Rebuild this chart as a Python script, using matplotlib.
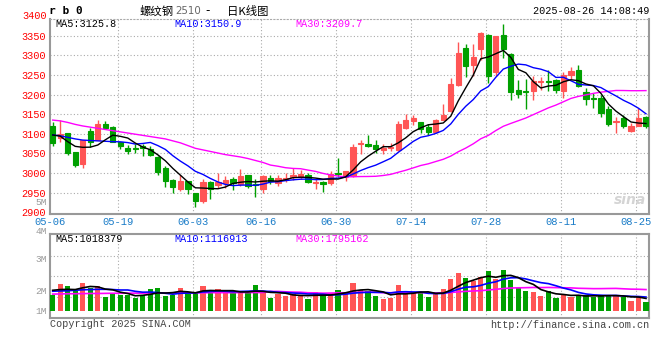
import numpy as np
import pandas as pd
import matplotlib.pyplot as plt

# trading days 2025-05-06 .. 2025-08-26 (Dragon Boat holiday on 06-02)
dates = pd.bdate_range('2025-05-06', '2025-08-26', freq='C',
                       holidays=['2025-06-02']).strftime('%m-%d').tolist()

opens = [3120, 3090, 3101, 3053, 3023, 3106, 3085, 3126, 3118, 3080,
         3065, 3065, 3068, 3061, 3040, 3012, 2982, 2960, 2979, 2949,
         2930, 2977, 2969, 2974, 2984, 2972, 2995, 2973, 2960, 2987,
         2975, 2984, 2990, 2990, 2996, 2975, 2977, 2974, 3001, 2990,
         2993, 3073, 3073, 3071, 3060, 3063, 3059, 3115, 3133, 3131,
         3117, 3105, 3135, 3158, 3224, 3319, 3275, 3315, 3353, 3257,
         3352, 3304, 3212, 3208, 3210, 3233, 3235, 3238, 3210, 3251,
         3263, 3206, 3191, 3191, 3164, 3131, 3140, 3108, 3121, 3142]
highs = [3130, 3136, 3103, 3053, 3085, 3115, 3134, 3132, 3119, 3080,
         3071, 3073, 3074, 3068, 3043, 3019, 2985, 2994, 2980, 2949,
         2985, 2980, 3001, 2993, 2990, 3010, 2995, 2986, 2996, 2995,
         2996, 3001, 3012, 3008, 3001, 2984, 2980, 3006, 3038, 3006,
         3073, 3084, 3096, 3085, 3073, 3077, 3132, 3150, 3147, 3131,
         3124, 3137, 3177, 3241, 3335, 3330, 3328, 3359, 3355, 3349,
         3380, 3306, 3238, 3240, 3248, 3246, 3262, 3240, 3257, 3271,
         3275, 3218, 3204, 3200, 3170, 3142, 3148, 3127, 3165, 3146]
lows = [3070, 3080, 3045, 3015, 3012, 3067, 3083, 3113, 3080, 3061,
        3048, 3052, 3043, 3043, 2995, 2965, 2950, 2955, 2947, 2913,
        2924, 2935, 2963, 2963, 2957, 2968, 2963, 2940, 2950, 2972,
        2968, 2976, 2983, 2985, 2974, 2959, 2952, 2969, 2990, 2979,
        2991, 3048, 3066, 3050, 3049, 3055, 3057, 3113, 3122, 3102,
        3097, 3103, 3135, 3156, 3222, 3245, 3248, 3289, 3229, 3248,
        3292, 3186, 3191, 3163, 3186, 3212, 3208, 3204, 3191, 3240,
        3220, 3174, 3167, 3142, 3121, 3103, 3114, 3105, 3119, 3114]
closes = [3076, 3099, 3050, 3020, 3083, 3078, 3126, 3116, 3080, 3068,
          3056, 3062, 3065, 3046, 3003, 2980, 2965, 2979, 2960, 2928,
          2977, 2959, 2976, 2982, 2974, 2992, 2968, 2970, 2992, 2979,
          2987, 2987, 2996, 2998, 2977, 2978, 2973, 2997, 2998, 3005,
          3066, 3076, 3070, 3061, 3063, 3066, 3124, 3134, 3140, 3112,
          3105, 3134, 3147, 3226, 3307, 3273, 3295, 3356, 3248, 3349,
          3315, 3206, 3202, 3206, 3235, 3235, 3231, 3211, 3251, 3261,
          3223, 3189, 3188, 3154, 3125, 3133, 3119, 3120, 3140, 3119]

# volume, million lots
volumes = [1.37, 2.24, 2.10, 1.71, 2.32, 1.93, 2.07, 1.18, 1.40, 1.32,
           1.37, 1.12, 1.37, 1.82, 1.93, 1.29, 1.32, 1.90, 1.60, 1.51,
           2.10, 1.51, 1.82, 1.60, 1.51, 1.57, 1.51, 2.15, 1.51, 1.09,
           1.43, 1.29, 1.43, 1.29, 1.01, 1.57, 1.32, 1.51, 1.74, 1.51,
           2.32, 1.74, 1.68, 1.26, 1.01, 1.09, 2.16, 1.68, 1.51, 1.51,
           1.18, 1.51, 1.82, 2.69, 3.17, 2.77, 2.49, 2.86, 3.33, 2.72,
           3.42, 2.63, 1.90, 1.65, 1.57, 1.26, 1.65, 1.09, 1.37, 1.18,
           1.32, 1.32, 1.18, 1.32, 1.32, 1.32, 1.18, 0.81, 1.23, 0.73]

# moving-average values before enough history is on the chart
ma5_head = [3097, 3094, 3080, 3068]
ma10_head = [3097, 3095, 3091, 3087, 3084, 3083, 3082, 3081, 3080]
ma30_head = [3135, 3133, 3129, 3124, 3120, 3117, 3114, 3111, 3108, 3105,
             3102, 3099, 3096, 3093, 3090, 3087, 3082, 3077, 3070, 3063,
             3059, 3055, 3051, 3047, 3044, 3041, 3037, 3032, 3027]
vol_ma5_head = [1.74, 1.80, 1.82, 1.80]
vol_ma10_head = [1.66, 1.68, 1.70, 1.74, 1.78, 1.80, 1.82, 1.82, 1.80]
vol_ma30_head = [1.42, 1.43, 1.45, 1.45, 1.46, 1.47, 1.47, 1.48, 1.49, 1.49,
                 1.50, 1.50, 1.50, 1.51, 1.51, 1.52, 1.52, 1.52, 1.53, 1.53,
                 1.53, 1.54, 1.54, 1.54, 1.54, 1.55, 1.55, 1.55, 1.55]

tick_dates = ['05-06', '05-19', '06-03', '06-16', '06-30', '07-14', '07-28', '08-11', '08-25']
price_ticks = [2900, 2950, 3000, 3050, 3100, 3150, 3200, 3250, 3300, 3350, 3400]
vol_labels = ['5M', '4M', '3M', '2M', '1M']
legend_price = ['MA5:3125.8', 'MA10:3150.9', 'MA30:3209.7']
legend_vol = ['MA5:1018379', 'MA10:1116913', 'MA30:1795162']

RED = '#ff5555'
GREEN = '#00a000'
GRID = '#aaaaaa'
EDGE = '#999999'
BLUE_TXT = '#1a7cc8'
MONO = 'Liberation Mono'
W, H = 660, 360


def fx(x):
    return x / W


def fy(y):
    return 1 - y / H


def with_head(values, n, head):
    s = pd.Series(values, dtype=float).rolling(n).mean()
    s.iloc[:len(head)] = head
    return s.values


x = np.arange(len(dates))
up = np.array(closes) >= np.array(opens)
colors = np.where(up, RED, GREEN)

fig = plt.figure(figsize=(6.6, 3.6), dpi=100)
fig.patch.set_facecolor('white')

ax = fig.add_axes([fx(50), fy(213.7), fx(599), 194.7 / H])
axv = fig.add_axes([fx(50), fy(318), fx(599), 84 / H])

grid_x = [dates.index(d) - 0.3 for d in tick_dates]

# ---- price panel
ax.vlines(x, lows, highs, colors=colors, linewidth=1, zorder=3)
body_lo = np.minimum(opens, closes)
body_h = np.abs(np.array(closes) - np.array(opens))
ax.bar(x, body_h, bottom=body_lo, width=0.7, color=colors, edgecolor=colors,
       linewidth=0.8, zorder=4)

ax.plot(x, with_head(closes, 30, ma30_head), color='#ff00ff', lw=1, zorder=5)
ax.plot(x, with_head(closes, 10, ma10_head), color='#0000ff', lw=1, zorder=5)
ax.plot(x, with_head(closes, 5, ma5_head), color='black', lw=1, zorder=5)

ax.set_xlim(-0.36, 79.4)
ax.set_ylim(2896.4, 3392.6)
ax.set_yticks(price_ticks[:-1])
ax.set_yticklabels([str(v) for v in price_ticks[:-1]], color='red',
                   family=MONO, fontsize=7.4)
ax.text(-0.006, price_ticks[-1], str(price_ticks[-1]), color='red', family=MONO,
        fontsize=7.4, ha='right', va='center', transform=ax.get_yaxis_transform(),
        clip_on=False)
ax.set_xticks(grid_x)
ax.set_xticklabels(tick_dates, color=BLUE_TXT, family=MONO, fontsize=7.6)
ax.tick_params(length=0, pad=3)
ax.tick_params(axis='x', pad=2.5)
for yv in price_ticks[1:-1]:
    ax.axhline(yv, color=GRID, lw=0.8, ls=(0, (1, 2)), zorder=1)
for gx in grid_x[1:]:
    ax.axvline(gx, color=GRID, lw=0.8, ls=(0, (1, 2)), zorder=1)
for side in ['left', 'right', 'bottom']:
    ax.spines[side].set_color(EDGE)
    ax.spines[side].set_linewidth(1.5)
ax.spines['top'].set_color(GRID)
ax.spines['top'].set_linestyle((0, (1, 2)))
ax.spines['top'].set_linewidth(0.8)

# ---- volume panel
axv.bar(x, volumes, width=0.7, color=colors, zorder=3)
axv.plot(x, with_head(volumes, 30, vol_ma30_head), color='#ff00ff', lw=1.2, zorder=4)
axv.plot(x, with_head(volumes, 10, vol_ma10_head), color='#0000ff', lw=1.2, zorder=4)
axv.plot(x, with_head(volumes, 5, vol_ma5_head), color='black', lw=1.2, zorder=4)
axv.set_xlim(-0.36, 79.4)
axv.set_ylim(-0.59, 6.47)
axv.set_xticks([])
axv.set_yticks([])
for yv in [1.18, 2.94, 4.62]:
    axv.axhline(yv, color=GRID, lw=0.8, ls=(0, (1, 2)), zorder=1)
for gx in grid_x[1:]:
    axv.axvline(gx, color=GRID, lw=0.8, ls=(0, (1, 2)), zorder=1)
for side in axv.spines:
    axv.spines[side].set_color(EDGE)
    axv.spines[side].set_linewidth(1.5)

for lab, ypx in zip(vol_labels, [202.5, 232, 260, 291, 311]):
    fig.text(fx(47), fy(ypx), lab, color='#999999', family=MONO, fontsize=6.8,
             ha='right', va='center')

# ---- texts
leg_colors = ['black', '#0000ff', '#ff00ff']
for txt, c, xp in zip(legend_price, leg_colors, [55, 174, 295]):
    fig.text(fx(xp), fy(24), txt, color=c, family=MONO, fontsize=7.3, va='center')
for txt, c, xp in zip(legend_vol, leg_colors, [55, 174, 295]):
    fig.text(fx(xp), fy(239), txt, color=c, family=MONO, fontsize=7.3, va='center')

fig.text(fx(49), fy(11), 'r b 0', family='DejaVu Sans Mono', fontweight='bold',
         fontsize=8, va='center')
cjk = ['Noto Sans CJK SC', 'DejaVu Sans']
fig.text(fx(140), fy(11), '螺纹钢', family=cjk, fontsize=8.2, va='center')
fig.text(fx(175.5), fy(11.5), '2510', family='DejaVu Sans', color='#666666',
         fontsize=7.4, va='center')
fig.text(fx(205), fy(11), '-', family='DejaVu Sans', fontsize=8.5, va='center')
fig.text(fx(227), fy(11), '日K线图', family=cjk, fontsize=8.2, va='center')
fig.text(fx(649), fy(11), '2025-08-26 14:08:49', family=MONO, fontsize=7.3,
         ha='right', va='center')
fig.text(fx(50), fy(324), 'Copyright 2025 SINA.COM', family=MONO, fontsize=7.3,
         color='#444444', va='center')
fig.text(fx(649), fy(325), 'http://finance.sina.com.cn', family=MONO, fontsize=7.3,
         color='#444444', ha='right', va='center')
fig.text(fx(646), fy(200), 'sina', family='DejaVu Sans', fontsize=10,
         fontweight='bold', style='italic', color='#d4d4d4', ha='right', va='center')

fig.savefig('out.png', dpi=100)
